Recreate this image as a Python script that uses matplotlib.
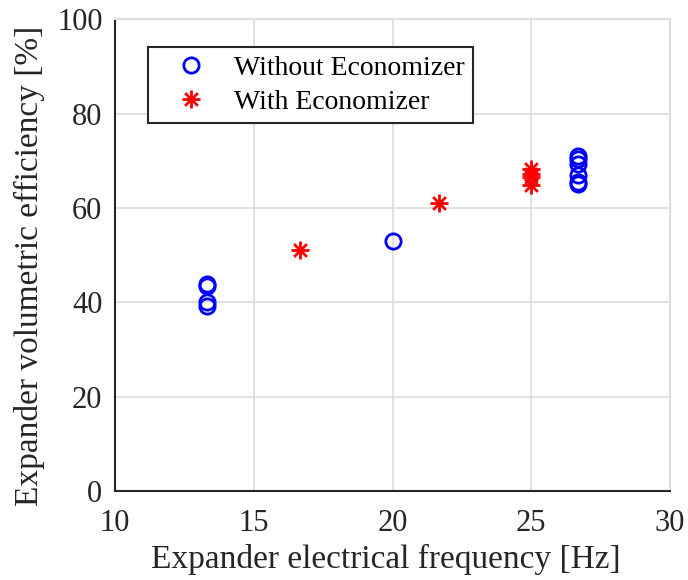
import matplotlib.pyplot as plt
from matplotlib.path import Path
import numpy as np

# Expander volumetric efficiency vs. electrical frequency
freq_without = [13.33, 13.33, 13.33, 13.33, 20.0, 26.67, 26.67, 26.67, 26.67, 26.67, 26.67]
eff_without = [44.0, 43.5, 40.0, 39.3, 53.0, 71.0, 70.3, 69.3, 67.0, 65.5, 65.0]

freq_with = [16.67, 21.67, 25.0, 25.0, 25.0, 25.0]
eff_with = [51.0, 61.0, 68.3, 67.2, 66.5, 64.9]

plt.rcParams['font.family'] = ['Liberation Serif', 'DejaVu Serif']

# MATLAB-style asterisk: four crossing strokes
verts, codes = [], []
for ang in np.deg2rad([0, 45, 90, 135]):
    dx, dy = np.cos(ang), np.sin(ang)
    verts += [(-dx, -dy), (dx, dy)]
    codes += [Path.MOVETO, Path.LINETO]
asterisk = Path(verts, codes)

fig = plt.figure(figsize=(6.88, 5.8), dpi=100)
ax = fig.add_axes([0.167, 0.153, 0.807, 0.814])

ax.plot(freq_without, eff_without, 'o', mfc='none', mec='blue', mew=2, ms=11,
        label='Without Economizer', linestyle='none')
ax.plot(freq_with, eff_with, marker=asterisk, color='red', mec='red', ms=13, mew=2,
        label='With Economizer', linestyle='none')

ax.set_xlim(10, 30)
ax.set_ylim(0, 100)
ax.set_xticks([10, 15, 20, 25, 30])
ax.set_yticks([0, 20, 40, 60, 80, 100])
ax.grid(True, color='#dedede', linewidth=1.3)
ax.set_axisbelow(True)
ax.tick_params(labelsize=22, length=0, colors='#262626')
ax.tick_params(axis='y', pad=9)
ax.tick_params(axis='x', pad=13)
ax.spines['left'].set_color('#262626')
ax.spines['bottom'].set_color('#262626')
ax.spines['top'].set_color('#dedede')
ax.spines['right'].set_color('#dedede')
for s in ax.spines.values():
    s.set_linewidth(1.5)

ax.set_xlabel('Expander electrical frequency [Hz]', fontsize=24, color='#262626')
ax.set_ylabel('Expander volumetric efficiency [%]', fontsize=24, color='#262626')
ax.xaxis.set_label_coords(0.488, -0.112)
ax.yaxis.set_label_coords(-0.125, 0.478)

leg = ax.legend(loc='upper left', bbox_to_anchor=(0.06, 0.941), borderaxespad=0,
                fontsize=20, frameon=True, fancybox=False, edgecolor='#262626',
                handletextpad=0.35, borderpad=0.3, labelspacing=0.3,
                handlelength=2.45, framealpha=1)
leg.get_frame().set_linewidth(1.5)

fig.savefig('out.png', dpi=100)
